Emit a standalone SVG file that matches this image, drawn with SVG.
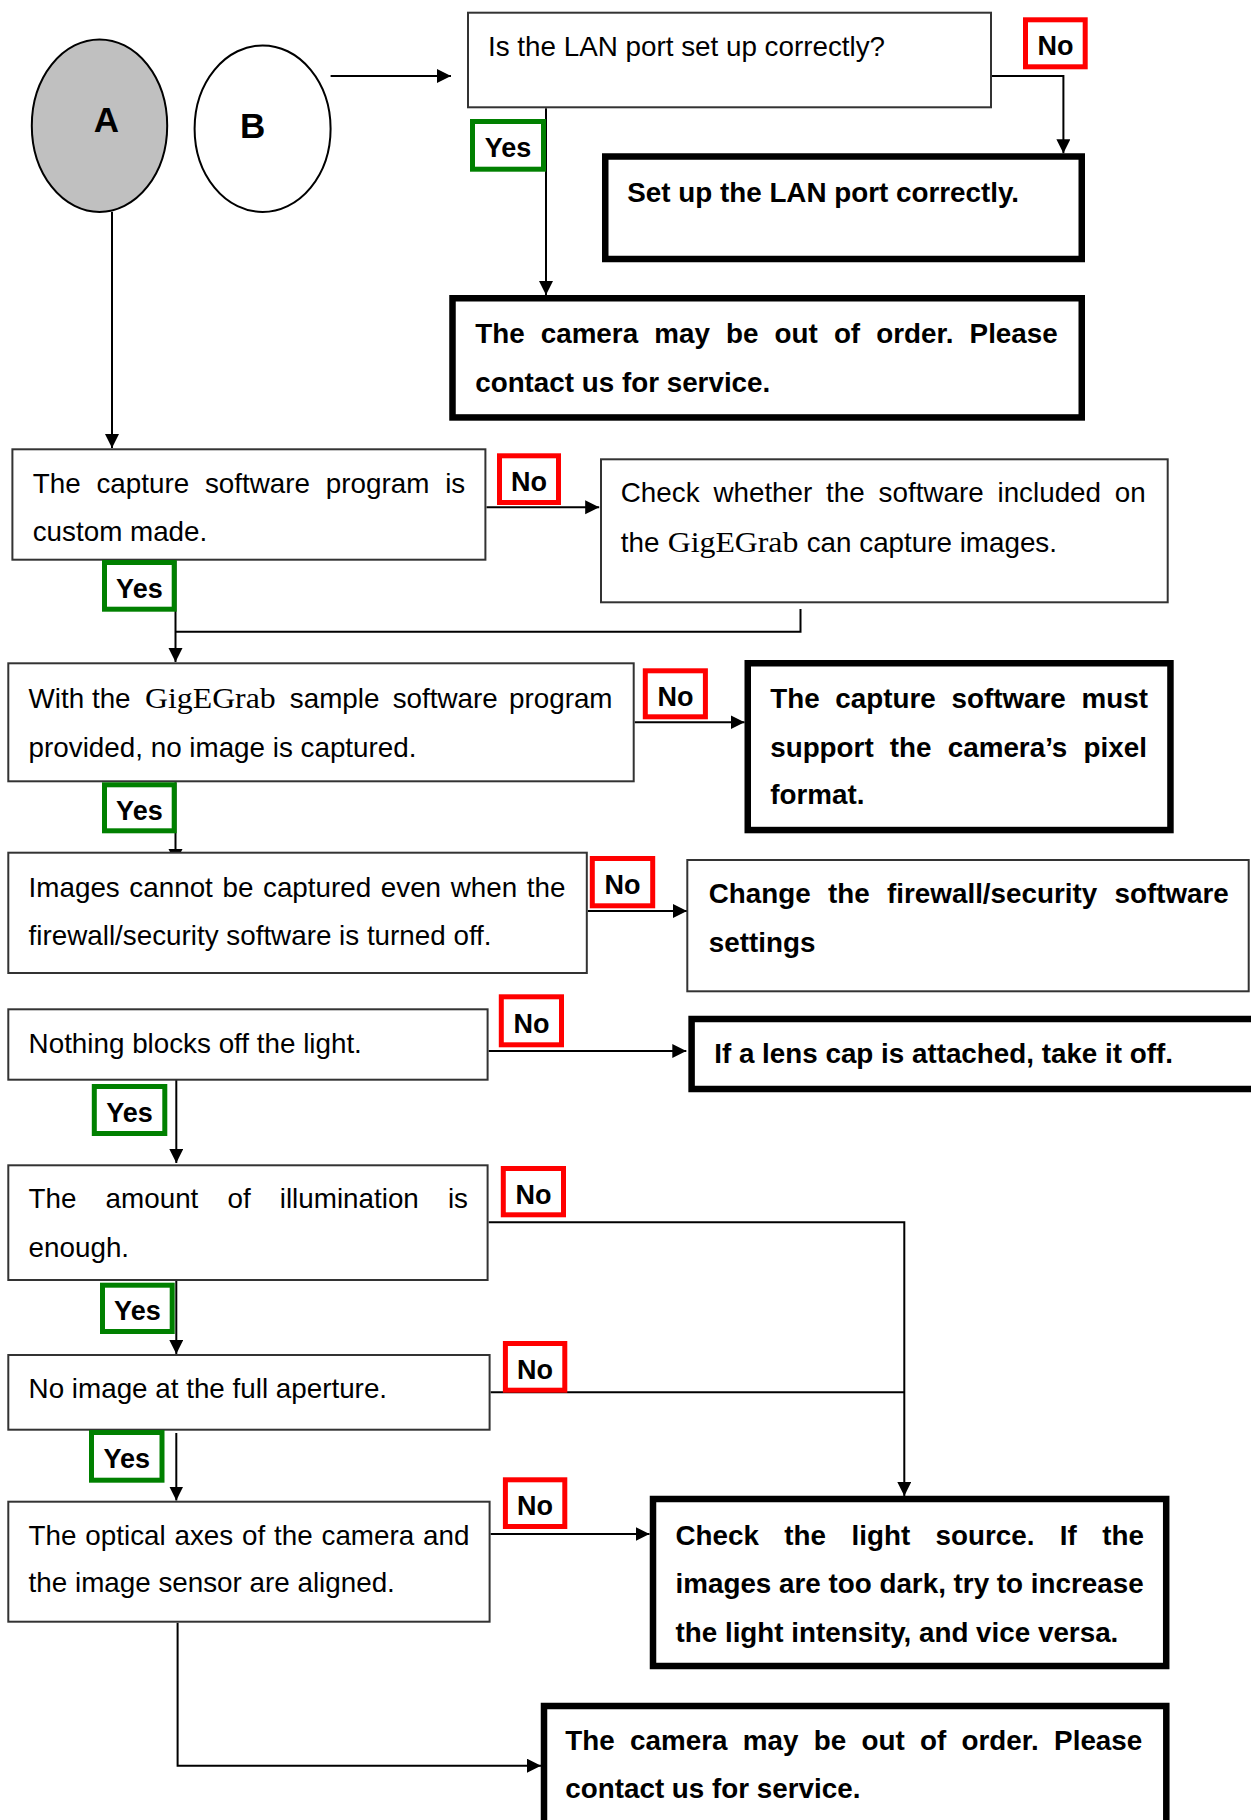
<svg xmlns="http://www.w3.org/2000/svg" width="1251" height="1820" viewBox="0 0 1251 1820">
<style>
.t{font-family:"Liberation Sans",Arial,sans-serif;font-size:27.8px;fill:#000}
.b{font-weight:bold}
.big{font-size:35px}
.s{font-family:"Liberation Serif","Times New Roman",serif}
.thin{fill:#fff;stroke:#333;stroke-width:2}
.thick{fill:#fff;stroke:#000;stroke-width:6.5}
.no{fill:#fff;stroke:#f00;stroke-width:5}
.yes{fill:#fff;stroke:#008000;stroke-width:5}
.lbl{font-family:"Liberation Sans",Arial,sans-serif;font-size:27px;font-weight:bold;text-anchor:middle;fill:#000}
.c{fill:none;stroke:#000;stroke-width:2}
.ca{fill:none;stroke:#000;stroke-width:2;marker-end:url(#ar)}
</style>
<defs>
<marker id="ar" markerUnits="userSpaceOnUse" markerWidth="15" markerHeight="15" refX="14" refY="7" orient="auto">
<path d="M0,0 L14,7 L0,14 z" fill="#000"/>
</marker>
</defs>
<rect width="1251" height="1820" fill="#fff"/>

<g id="connectors">
<path class="ca" d="M330.6,76 H451"/>
<path class="ca" d="M546,108.3 V295"/>
<path class="ca" d="M992,76 H1063.4 V153.3"/>
<path class="ca" d="M112,212 V448"/>
<path class="ca" d="M486.5,507.3 H599.2"/>
<path class="ca" d="M175.5,560.7 V662"/>
<path class="c" d="M800.5,609 V631.7 H175.5"/>
<path class="ca" d="M634.7,722.3 H744.5"/>
<path class="ca" d="M175.5,782.3 V863"/>
<path class="ca" d="M587.8,911 H687"/>
<path class="ca" d="M488.6,1051 H686.3"/>
<path class="ca" d="M176.3,1078 V1163"/>
<path class="ca" d="M488.6,1222.3 H904.3 V1496"/>
<path class="ca" d="M176.3,1281 V1354"/>
<path class="c" d="M490.6,1392.3 H904.3"/>
<path class="ca" d="M176.3,1433 V1500.5"/>
<path class="ca" d="M490.6,1534 H649.5"/>
<path class="ca" d="M177.6,1622.7 V1765.7 H541"/>
</g>

<g id="nodeA">
<ellipse cx="99.5" cy="125.7" rx="67.7" ry="86.3" fill="#c0c0c0" stroke="#000" stroke-width="2"/>
<text class="t b big" x="106.5" y="131.7" text-anchor="middle">A</text>
</g>
<g id="nodeB">
<ellipse cx="262.6" cy="128.7" rx="68" ry="83.3" fill="#fff" stroke="#000" stroke-width="2"/>
<text class="t b big" x="252.6" y="138" text-anchor="middle">B</text>
</g>

<g id="lan">
<rect class="thin" x="468" y="12.7" width="523" height="94.6"/>
<text class="t" x="488" y="56">Is the LAN port set up correctly?</text>
</g>
<g id="setup">
<rect class="thick" x="605.25" y="156.5" width="476.5" height="102.5"/>
<text class="t b" x="627.3" y="201.7">Set up the LAN port correctly.</text>
</g>
<g id="camera1">
<rect class="thick" x="452.5" y="298.25" width="629.25" height="119.2"/>
<text class="t b" x="475.2" y="343.3" word-spacing="8.4">The camera may be out of order. Please</text>
<text class="t b" x="475.2" y="391.7">contact us for service.</text>
</g>

<g id="capture">
<rect class="thin" x="12.4" y="449.3" width="473" height="110.4"/>
<text class="t" x="32.7" y="493.3" word-spacing="8.1">The capture software program is</text>
<text class="t" x="32.7" y="540.7">custom made.</text>
</g>
<g id="check">
<rect class="thin" x="601" y="459.3" width="566.7" height="143"/>
<text class="t" x="620.8" y="501.7" word-spacing="6.1">Check whether the software included on</text>
<text class="t" y="551.7"><tspan x="620.8">the</tspan><tspan class="s" x="667.7" font-size="29" textLength="130.7" lengthAdjust="spacingAndGlyphs">GigEGrab</tspan><tspan x="806.7">can capture images.</tspan></text>
</g>

<g id="gigegrab">
<rect class="thin" x="8.3" y="663.3" width="625.4" height="118"/>
<text class="t" y="708.3"><tspan x="28.6">With the</tspan><tspan class="s" x="145" font-size="29" textLength="130.7" lengthAdjust="spacingAndGlyphs">GigEGrab</tspan><tspan x="289.8">sample</tspan><tspan x="392.7">software</tspan><tspan x="509">program</tspan></text>
<text class="t" x="28.6" y="756.7">provided, no image is captured.</text>
</g>
<g id="pixel">
<rect class="thick" x="747.75" y="663.25" width="422.7" height="166.8"/>
<text class="t b" x="770.2" y="708.3" word-spacing="8">The capture software must</text>
<text class="t b" x="770.2" y="756.7" word-spacing="8.5">support the camera’s pixel</text>
<text class="t b" x="770.2" y="804">format.</text>
</g>

<g id="firewall">
<rect class="thin" x="8.3" y="852.7" width="578.5" height="120.3"/>
<text class="t" x="28.6" y="896.7" word-spacing="1.9">Images cannot be captured even when the</text>
<text class="t" x="28.6" y="945">firewall/security software is turned off.</text>
</g>
<g id="change">
<rect class="thin" x="687.3" y="860" width="561.4" height="131.3" stroke="#555"/>
<text class="t b" x="708.8" y="903.3" word-spacing="9.6">Change the firewall/security software</text>
<text class="t b" x="708.8" y="951.7">settings</text>
</g>

<g id="nothing">
<rect class="thin" x="8.3" y="1009.3" width="479.3" height="70.4"/>
<text class="t" x="28.6" y="1053.3">Nothing blocks off the light.</text>
</g>
<g id="lens">
<rect class="thick" x="691.6" y="1019" width="600" height="70"/>
<text class="t b" x="714.2" y="1063.3">If a lens cap is attached, take it off.</text>
</g>

<g id="amount">
<rect class="thin" x="8.3" y="1165.3" width="479.3" height="114.7"/>
<text class="t" x="28.6" y="1208.3" word-spacing="21.4">The amount of illumination is</text>
<text class="t" x="28.6" y="1256.7">enough.</text>
</g>
<g id="aperture">
<rect class="thin" x="8.3" y="1355" width="481.3" height="74.7"/>
<text class="t" x="28.6" y="1398.3">No image at the full aperture.</text>
</g>
<g id="optical">
<rect class="thin" x="8.3" y="1501.7" width="481.3" height="120"/>
<text class="t" x="28.6" y="1545" word-spacing="1.1">The optical axes of the camera and</text>
<text class="t" x="28.6" y="1592.3">the image sensor are aligned.</text>
</g>
<g id="light">
<rect class="thick" x="653" y="1499" width="513.2" height="167"/>
<text class="t b" x="675.5" y="1545" word-spacing="17.7">Check the light source. If the</text>
<text class="t b" x="675.5" y="1593.3">images are too dark, try to increase</text>
<text class="t b" x="675.5" y="1641.7">the light intensity, and vice versa.</text>
</g>
<g id="camera2">
<rect class="thick" x="544" y="1706" width="622.3" height="200"/>
<text class="t b" x="565.3" y="1750" word-spacing="7.6">The camera may be out of order. Please</text>
<text class="t b" x="565.3" y="1798.3">contact us for service.</text>
</g>

<g id="labels">
<rect class="no" x="1025.5" y="19.8" width="59.7" height="47"/><text class="lbl" x="1055.4" y="55.3">No</text>
<rect class="yes" x="472.5" y="121.5" width="71" height="47.7"/><text class="lbl" x="508" y="157.4">Yes</text>
<rect class="no" x="499.5" y="455.8" width="59" height="46.7"/><text class="lbl" x="529" y="491.2">No</text>
<rect class="yes" x="104.5" y="562.5" width="69.7" height="46.7"/><text class="lbl" x="139.4" y="597.9">Yes</text>
<rect class="no" x="645.3" y="670.8" width="60.1" height="46"/><text class="lbl" x="675.4" y="705.8">No</text>
<rect class="yes" x="104.5" y="784.8" width="69.7" height="46"/><text class="lbl" x="139.4" y="819.8">Yes</text>
<rect class="no" x="592.3" y="858.5" width="60.4" height="47.3"/><text class="lbl" x="622.5" y="894.2">No</text>
<rect class="no" x="501.3" y="996.8" width="60.2" height="48"/><text class="lbl" x="531.4" y="1032.8">No</text>
<rect class="yes" x="94.3" y="1086.5" width="70.5" height="47"/><text class="lbl" x="129.6" y="1122">Yes</text>
<rect class="no" x="503.3" y="1168.5" width="60.2" height="46.3"/><text class="lbl" x="533.4" y="1203.7">No</text>
<rect class="yes" x="102.5" y="1285.2" width="69.7" height="46.3"/><text class="lbl" x="137.4" y="1320.4">Yes</text>
<rect class="no" x="505.4" y="1343.5" width="59.4" height="46.7"/><text class="lbl" x="535.1" y="1378.9">No</text>
<rect class="yes" x="91.5" y="1432.5" width="70.5" height="47.7"/><text class="lbl" x="126.8" y="1468.4">Yes</text>
<rect class="no" x="505.4" y="1479.8" width="59.4" height="46.7"/><text class="lbl" x="535.1" y="1515.2">No</text>
</g>
</svg>
